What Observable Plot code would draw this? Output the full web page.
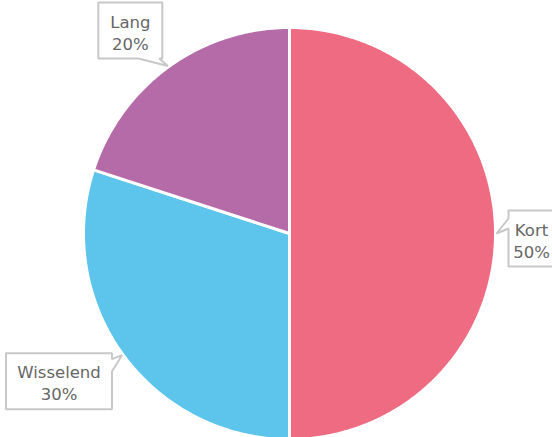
<!DOCTYPE html>
<html>
<head>
<meta charset="utf-8">
<script src="https://cdn.jsdelivr.net/npm/d3@7"></script>
<script src="https://cdn.jsdelivr.net/npm/@observablehq/plot@0.6"></script>
<style>
  html, body { margin: 0; padding: 0; background: #fff; }
  #chart { width: 552px; height: 437px; overflow: hidden; }
</style>
</head>
<body>
<div id="chart"></div>
<script>
// ---- data ----
const categories = ["Kort", "Wisselend", "Lang"];
const values = [50, 30, 20];
const colors = ["#EE6B82", "#5DC5EC", "#B56BA8"];

// ---- layout (pixels) ----
const W = 552, H = 437;
const center = [289, 233];
const radius = 206;
// label box placement relative to the slice's rim anchor, and tail position
const labelLayout = {
  "Kort":      {dx: 39,  dy: 5,     w: 54,  h: 56, textDx: -4, tail: {side: "left",   a: 8,  b: 18}},
  "Wisselend": {dx: -63, dy: 26,    w: 106, h: 56, textDx: 0,  tail: {side: "right",  a: 6,  b: 18}},
  "Lang":      {dx: -37.5, dy: -35.5, w: 64, h: 56, textDx: 0, tail: {side: "bottom", a: 40, b: 61}}
};

const total = d3.sum(values);
const arcs = d3.pie().sort(null).value(d => d.value)(
  categories.map((c, i) => ({category: c, value: values[i]}))
);

const pt = (a, r) => [center[0] + r * Math.sin(a), center[1] - r * Math.cos(a)];

// slice polygons
const slicePts = [];
for (const a of arcs) {
  const cat = a.data.category;
  slicePts.push({category: cat, x: center[0], y: center[1]});
  const n = Math.max(2, Math.ceil((a.endAngle - a.startAngle) / (Math.PI / 360)));
  for (let k = 0; k <= n; k++) {
    const t = a.startAngle + (a.endAngle - a.startAngle) * k / n;
    const [x, y] = pt(t, radius);
    slicePts.push({category: cat, x, y});
  }
  slicePts.push({category: cat, x: center[0], y: center[1]});
}

// callouts
const calloutPts = [];
const labels = [];
for (const a of arcs) {
  const cat = a.data.category;
  const L = labelLayout[cat];
  const mid = (a.startAngle + a.endAngle) / 2;
  const tip = pt(mid, radius + 1);
  const cx = tip[0] + L.dx, cy = tip[1] + L.dy;
  const x0 = cx - L.w / 2, x1 = cx + L.w / 2, y0 = cy - L.h / 2, y1 = cy + L.h / 2;
  const t = L.tail;
  const p = [[x0, y0]];
  if (t.side === "top") p.push([x0 + t.a, y0], tip, [x0 + t.b, y0]);
  p.push([x1, y0]);
  if (t.side === "right") p.push([x1, y0 + t.a], tip, [x1, y0 + t.b]);
  p.push([x1, y1]);
  if (t.side === "bottom") p.push([x0 + t.b, y1], tip, [x0 + t.a, y1]);
  p.push([x0, y1]);
  if (t.side === "left") p.push([x0, y0 + t.b], tip, [x0, y0 + t.a]);
  p.push([x0, y0]);
  for (const [x, y] of p) calloutPts.push({category: cat, x, y});
  labels.push({category: cat, x: cx + L.textDx, y: cy + 1,
    text: `${cat}\n${Math.round(a.data.value / total * 100)}%`});
}

const chart = Plot.plot({
  width: W,
  height: H,
  margin: 0,
  style: {background: "#fff", overflow: "hidden"},
  x: {type: "linear", domain: [0, W], range: [0, W], axis: null},
  y: {type: "linear", domain: [0, H], range: [0, H], axis: null},
  color: {type: "ordinal", domain: categories, range: colors},
  marks: [
    Plot.line(slicePts, {x: "x", y: "y", z: "category", fill: "category",
      stroke: "#fff", strokeWidth: 3, strokeLinejoin: "round", curve: "linear"}),
    Plot.line(calloutPts, {x: "x", y: "y", z: "category", fill: "#fff",
      stroke: "#c8c8c8", strokeWidth: 2, strokeLinejoin: "miter", curve: "linear"}),
    Plot.text(labels, {x: "x", y: "y", text: "text", fontSize: 16.5,
      lineHeight: 1.35, lineAnchor: "middle", fill: "#666",
      fontFamily: "DejaVu Sans, sans-serif"})
  ]
});
document.getElementById("chart").appendChild(chart);
</script>
</body>
</html>
